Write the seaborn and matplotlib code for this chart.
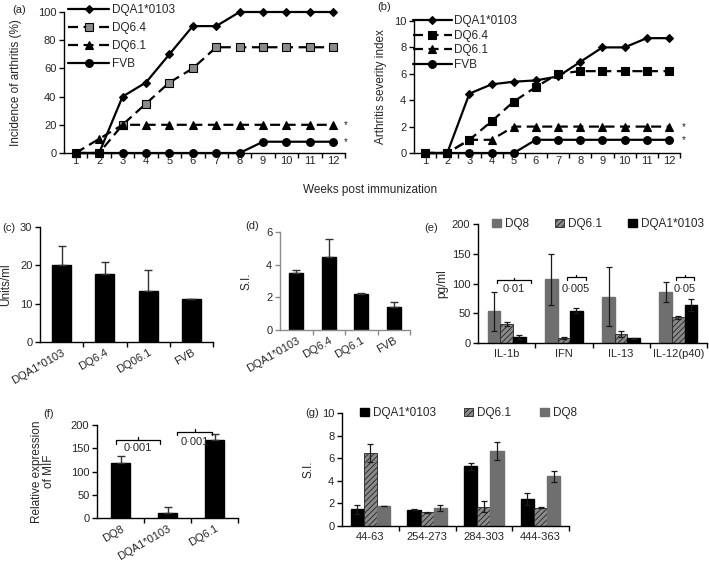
import numpy as np
import pandas as pd
import matplotlib
matplotlib.use('Agg')
import matplotlib.pyplot as plt
import matplotlib.transforms as mtrans
from matplotlib.lines import Line2D
from matplotlib.patches import Patch
import seaborn as sns

# ---- data ----
weeks = list(range(1, 13))
strains_line = ['DQA1*0103', 'DQ6.4', 'DQ6.1', 'FVB']

incidence_dqa1 = [0, 0, 40, 50, 70, 90, 90, 100, 100, 100, 100, 100]
incidence_dq64 = [0, 0, 20, 35, 50, 60, 75, 75, 75, 75, 75, 75]
incidence_dq61 = [0, 10, 20, 20, 20, 20, 20, 20, 20, 20, 20, 20]
incidence_fvb = [0, 0, 0, 0, 0, 0, 0, 0, 8, 8, 8, 8]

severity_dqa1 = [0, 0, 4.5, 5.2, 5.4, 5.5, 5.8, 6.9, 8.0, 8.0, 8.7, 8.7]
severity_dq64 = [0, 0, 1.0, 2.4, 3.9, 5.0, 6.0, 6.2, 6.2, 6.2, 6.2, 6.2]
severity_dq61 = [0, 0, 1.0, 1.0, 2.0, 2.0, 2.0, 2.0, 2.0, 2.0, 2.0, 2.0]
severity_fvb = [0, 0, 0, 0, 0, 1, 1, 1, 1, 1, 1, 1]

c_cats = ['DQA1*0103', 'DQ6.4', 'DQ06.1', 'FVB']
c_vals = [20.0, 17.8, 13.4, 11.2]
c_err = [5.0, 3.0, 5.4, 0.0]

d_cats = ['DQA1*0103', 'DQ6.4', 'DQ6.1', 'FVB']
d_vals = [3.5, 4.5, 2.2, 1.4]
d_err = [0.15, 1.1, 0.08, 0.3]

e_cats = ['IL-1b', 'IFN', 'IL-13', 'IL-12(p40)']
e_strains = ['DQ8', 'DQ6.1', 'DQA1*0103']
e_dq8 = [53, 107, 78, 86]
e_dq8_err = [32, 43, 49, 17]
e_dq61 = [32, 8, 15, 43]
e_dq61_err = [4, 2, 5, 2]
e_dqa1 = [10, 54, 8, 64]
e_dqa1_err = [3, 4, 1, 10]

f_cats = ['DQ8', 'DQA1*0103', 'DQ6.1']
f_vals = [118, 11, 168]
f_err = [15, 12, 12]

g_cats = ['44-63', '254-273', '284-303', '444-363']
g_strains = ['DQA1*0103', 'DQ6.1', 'DQ8']
g_dqa1 = [1.5, 1.45, 5.3, 2.4]
g_dqa1_err = [0.4, 0.05, 0.3, 0.5]
g_dq61 = [6.5, 1.2, 1.7, 1.6]
g_dq61_err = [0.8, 0.05, 0.5, 0.05]
g_dq8 = [1.75, 1.6, 6.6, 4.4]
g_dq8_err = [0.0, 0.3, 0.8, 0.5]

# ---- style ----
sns.set_style('ticks')
plt.rcParams['font.family'] = ['Liberation Sans', 'DejaVu Sans']
plt.rcParams['font.size'] = 8
plt.rcParams['hatch.linewidth'] = 0.6

GRAY = '#6f6f6f'
HATCH_FACE = '#8a8a8a'

W, H = 709, 563
fig = plt.figure(figsize=(W / 100, H / 100), dpi=100)


def rect(l, t, r, b):
    return [l / W, 1 - b / H, (r - l) / W, (b - t) / H]


def style_axes(ax, spine_color='black'):
    sns.despine(ax=ax)
    for s in ['left', 'bottom']:
        ax.spines[s].set_color(spine_color)
        ax.spines[s].set_linewidth(1.0)
    ax.tick_params(axis='both', which='both', direction='out', length=3.5,
                   width=1.0, labelsize=8, pad=2, color=spine_color)


def category_ticks(ax, n, labels, rotation=0, dx=0.0):
    ax.set_xlim(-0.5, n - 0.5)
    ax.set_xticks(range(n))
    if rotation:
        ax.set_xticklabels(labels, rotation=rotation, ha='right',
                           rotation_mode='anchor')
        off = mtrans.ScaledTranslation(dx / 72, 0, fig.dpi_scale_trans)
        for lab in ax.get_xticklabels():
            lab.set_transform(lab.get_transform() + off)
    else:
        ax.set_xticklabels(labels)
    ax.set_xticks(np.arange(n) + 0.5, minor=True)
    ax.tick_params(axis='x', which='major', length=0, pad=4)
    ax.set_xlabel('')


def bracket(ax, x1, x2, y, h, text, ty):
    ax.plot([x1, x1, x2, x2], [y - h, y, y, y - h], color='black', lw=0.9,
            clip_on=False)
    ax.plot([(x1 + x2) / 2] * 2, [y, y + h * 0.8], color='black', lw=0.9,
            clip_on=False)
    ax.text((x1 + x2) / 2, ty, text, ha='center', va='center', fontsize=8)


def line_panel(ax, series, styles):
    for name, vals in zip(strains_line, series):
        mk, ms, dash, fc = styles[name]
        sns.lineplot(x=weeks, y=vals, ax=ax, color='black', marker=mk,
                     markersize=ms, markerfacecolor=fc, markeredgecolor='black',
                     markeredgewidth=0.8, lw=1.6, clip_on=False, zorder=3)
        ln = ax.lines[-1]
        if dash:
            ln.set_dashes(dash)
    ax.set_xlim(0.5, 12.5)
    ax.set_xticks(weeks)
    ax.set_xticks(np.arange(1.5, 13, 1), minor=True)
    ax.tick_params(axis='x', which='major', length=0, pad=5)


def legend_handles(styles):
    hs = []
    for name in strains_line:
        mk, ms, dash, fc = styles[name]
        h = Line2D([], [], color='black', marker=mk, markersize=ms, lw=1.6,
                   markerfacecolor=fc, markeredgecolor='black',
                   markeredgewidth=0.8, linestyle='--' if dash else '-')
        if dash:
            h.set_dashes(dash)
        hs.append(h)
    return hs


# ---- (a) incidence ----
ax_a = fig.add_axes(rect(64, 12, 345, 153))
styles_a = {
    'DQA1*0103': ('D', 4, None, 'black'),
    'DQ6.4': ('s', 5.8, (4.5, 2.5), '#8a8a8a'),
    'DQ6.1': ('^', 6, (4.5, 2.5), 'black'),
    'FVB': ('o', 5.6, None, 'black'),
}
line_panel(ax_a, [incidence_dqa1, incidence_dq64, incidence_dq61, incidence_fvb],
           styles_a)
ax_a.set_ylim(0, 100)
ax_a.set_yticks([0, 20, 40, 60, 80, 100])
style_axes(ax_a)
ax_a.tick_params(axis='x', which='major', length=0)
ax_a.set_ylabel('Incidence of arthritis (%)', fontsize=8.5)
ax_a.yaxis.set_label_coords(-0.149, 0.5)
ax_a.legend(handles=legend_handles(styles_a), labels=strains_line,
            loc='upper left', bbox_to_anchor=(0.014, 1.055), frameon=False,
            borderpad=0, borderaxespad=0, handlelength=3.5,
            handletextpad=0.2, labelspacing=0.5, fontsize=8.5)
ax_a.text(12.45, 20, '*', ha='left', va='center', fontsize=7)
ax_a.text(12.45, 8, '*', ha='left', va='center', fontsize=7)

# ---- (b) severity ----
ax_b = fig.add_axes(rect(414, 21, 680, 153))
styles_b = {
    'DQA1*0103': ('D', 4, None, 'black'),
    'DQ6.4': ('s', 5.8, (4.5, 2.5), 'black'),
    'DQ6.1': ('^', 6, (4.5, 2.5), 'black'),
    'FVB': ('o', 5.6, None, 'black'),
}
line_panel(ax_b, [severity_dqa1, severity_dq64, severity_dq61, severity_fvb],
           styles_b)
ax_b.set_ylim(0, 10)
ax_b.set_yticks([0, 2, 4, 6, 8, 10])
style_axes(ax_b)
ax_b.tick_params(axis='x', which='major', length=0)
ax_b.set_ylabel('Arthritis severity index', fontsize=8.5)
ax_b.yaxis.set_label_coords(-0.10, 0.5)
ax_b.legend(handles=legend_handles(styles_b), labels=strains_line,
            loc='upper left', bbox_to_anchor=(-0.005, 1.045), frameon=False,
            borderpad=0, borderaxespad=0, handlelength=3.3,
            handletextpad=0.2, labelspacing=0.22, fontsize=8.5)
ax_b.text(12.6, 2.0, '*', ha='left', va='center', fontsize=7)
ax_b.text(12.6, 1.0, '*', ha='left', va='center', fontsize=7)

fig.text(370 / W, 1 - 190 / H, 'Weeks post immunization', ha='center',
         va='center', fontsize=8.5)


# ---- single bar panels ----
def single_bars(ax, cats, vals, errs, width):
    sns.barplot(x=cats, y=vals, ax=ax, color='black', saturation=1,
                width=width, errorbar=None, edgecolor='black', order=cats)
    ax.errorbar(range(len(cats)), vals, yerr=[np.zeros(len(errs)), errs],
                fmt='none', ecolor='#333333', elinewidth=1.0, capsize=3,
                capthick=1.0)


ax_c = fig.add_axes(rect(40, 227, 213, 342))
single_bars(ax_c, c_cats, c_vals, c_err, 0.44)
ax_c.set_ylim(0, 30)
ax_c.set_yticks([0, 10, 20, 30])
style_axes(ax_c)
category_ticks(ax_c, 4, c_cats, rotation=30, dx=6)
ax_c.set_ylabel('Units/ml', fontsize=8.5)
ax_c.yaxis.set_label_coords(-0.162, 0.5)

ax_d = fig.add_axes(rect(280, 232, 410, 330))
single_bars(ax_d, d_cats, d_vals, d_err, 0.42)
ax_d.set_ylim(0, 6)
ax_d.set_yticks([0, 2, 4, 6])
style_axes(ax_d, spine_color='#8c8c8c')
category_ticks(ax_d, 4, d_cats, rotation=30, dx=4)
ax_d.set_ylabel('S.I.', fontsize=8.5)
ax_d.yaxis.set_label_coords(-0.208, 0.5)

ax_f = fig.add_axes(rect(97, 425, 238, 518))
single_bars(ax_f, f_cats, f_vals, f_err, 0.42)
ax_f.set_ylim(0, 200)
ax_f.set_yticks([0, 50, 100, 150, 200])
style_axes(ax_f)
category_ticks(ax_f, 3, f_cats, rotation=30, dx=0)
ax_f.set_ylabel('Relative expression\nof MIF', fontsize=8.5, linespacing=1.0)
ax_f.yaxis.set_label_coords(-0.30, 0.5)
bracket(ax_f, -0.1, 0.85, 168, 8, '0·001', 150)
bracket(ax_f, 1.2, 1.95, 186, 8, '0·001', 164)


# ---- grouped bar panels ----
def grouped_bars(ax, cats, strains, vals_list, errs_list, colors, width):
    rows = []
    for s, vals in zip(strains, vals_list):
        for c, v in zip(cats, vals):
            rows.append({'cat': c, 'strain': s, 'val': v})
    df = pd.DataFrame(rows)
    sns.barplot(data=df, x='cat', y='val', hue='strain', order=cats,
                hue_order=strains, palette=colors, saturation=1, width=width,
                errorbar=None, legend=False, ax=ax, gap=0)
    for cont, s, errs in zip(ax.containers, strains, errs_list):
        xs = [p.get_x() + p.get_width() / 2 for p in cont.patches]
        hs = [p.get_height() for p in cont.patches]
        ax.errorbar(xs, hs, yerr=errs, fmt='none', ecolor='#1a1a1a',
                    elinewidth=0.9, capsize=2.5, capthick=0.9, zorder=4)
        for p in cont.patches:
            if s == 'DQ6.1':
                p.set_hatch('//////')
                p.set_facecolor(HATCH_FACE)
                p.set_edgecolor('#222222')
                p.set_linewidth(0.6)
            else:
                p.set_edgecolor(colors[s])


def square_legend(ax, strains, colors, anchor, colspace):
    hs = []
    for s in strains:
        if s == 'DQ6.1':
            hs.append(Patch(facecolor=HATCH_FACE, edgecolor='#222222',
                            hatch='//////', lw=0.6))
        else:
            hs.append(Patch(facecolor=colors[s], edgecolor=colors[s]))
    ax.legend(handles=hs, labels=strains, ncol=3, loc='center left',
              bbox_to_anchor=anchor, frameon=False, borderpad=0,
              borderaxespad=0, handlelength=0.75, handleheight=0.75,
              handletextpad=0.35, columnspacing=colspace, fontsize=8.5)


ax_e = fig.add_axes(rect(478, 224, 707, 343))
e_colors = {'DQ8': GRAY, 'DQ6.1': HATCH_FACE, 'DQA1*0103': 'black'}
grouped_bars(ax_e, e_cats, e_strains, [e_dq8, e_dq61, e_dqa1],
             [e_dq8_err, e_dq61_err, e_dqa1_err], e_colors, 0.66)
ax_e.set_ylim(0, 200)
ax_e.set_yticks([0, 50, 100, 150, 200])
style_axes(ax_e)
category_ticks(ax_e, 4, e_cats)
ax_e.set_ylabel('pg/ml', fontsize=8.5)
ax_e.yaxis.set_label_coords(-0.13, 0.5)
square_legend(ax_e, e_strains, e_colors, (0.06, 1.0), 2.2)
bracket(ax_e, -0.17, 0.42, 106, 5, '0·01', 90)
bracket(ax_e, 1.05, 1.38, 111, 5, '0·005', 90)
bracket(ax_e, 2.95, 3.27, 111, 5, '0·05', 90)

ax_g = fig.add_axes(rect(342, 413, 569, 526))
g_colors = {'DQA1*0103': 'black', 'DQ6.1': HATCH_FACE, 'DQ8': GRAY}
grouped_bars(ax_g, g_cats, g_strains, [g_dqa1, g_dq61, g_dq8],
             [g_dqa1_err, g_dq61_err, g_dq8_err], g_colors, 0.7)
ax_g.set_ylim(0, 10)
ax_g.set_yticks([0, 2, 4, 6, 8, 10])
style_axes(ax_g)
category_ticks(ax_g, 4, g_cats)
ax_g.set_ylabel('S.I.', fontsize=8.5)
ax_g.yaxis.set_label_coords(-0.119, 0.5)
square_legend(ax_g, g_strains, g_colors, (0.08, 1.0), 2.4)

# ---- panel letters ----
for lab, x, y in [('(a)', 12, 10), ('(b)', 377, 7), ('(c)', 2, 228),
                  ('(d)', 245, 226), ('(e)', 424, 228), ('(f)', 43, 414),
                  ('(g)', 305, 413)]:
    fig.text(x / W, 1 - y / H, lab, ha='left', va='center', fontsize=8)

fig.savefig('out.png', dpi=100, facecolor='white')
